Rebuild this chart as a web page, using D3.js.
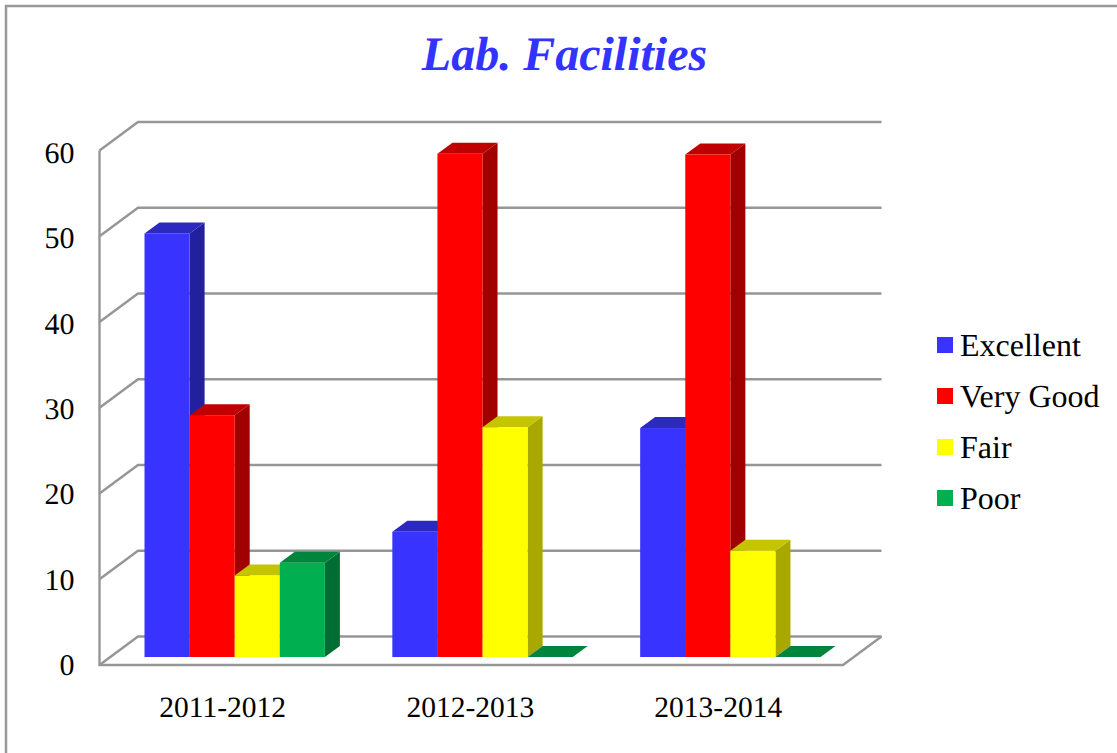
<!DOCTYPE html>
<html><head><meta charset="utf-8">
<script src="https://cdn.jsdelivr.net/npm/d3@7"></script>
<style>html,body{margin:0;padding:0;background:#fff}svg{display:block}text{font-family:"Liberation Serif",serif;fill:#000;text-rendering:geometricPrecision}</style>
</head><body><svg id="c" width="1117" height="753"></svg>
<script>
const categories = ["2011-2012","2012-2013","2013-2014"];
const seriesNames = ["Excellent","Very Good","Fair","Poor"];
const excellent = [49.4,14.6,26.7];
const veryGood = [28.2,58.7,58.6];
const fair = [9.5,26.8,12.4];
const poor = [11,0,0];
const seriesValues = [excellent,veryGood,fair,poor];
const faceColors = ["#3833FF","#FF0000","#FFFF00","#00B050"];
const topColors = ["#2C29BE","#C00000","#C4C400","#00863C"];
const sideColors = ["#2320A0","#A00000","#A8A800","#006E32"];
const yTicks = [0,10,20,30,40,50,60];

const svg = d3.select("#c"), gray = "#969696";
const left = 99.5, right = 843, base = 665, top60 = 150.5;
const wallDx = 38.5, wallDy = 28.5;
const barBase = 657, barDx = 15, barDy = 11;
const x = d3.scaleBand().domain(categories).range([left,right]);
const y = d3.scaleLinear().domain([0,60]).range([base,top60]);
const yLabel = d3.scaleLinear().domain([0,60]).range([675,163]);
const h = d3.scaleLinear().domain([0,60]).range([barBase,barBase-(base-top60)]);
const inner = d3.scaleBand().domain(seriesNames).range([45,45+180.4]);

// frame
svg.append("path").attr("d",d3.line()([[6,753],[6,6],[1117,6]])).attr("fill","none").attr("stroke","#999").attr("stroke-width",2.5);

// walls and grid
svg.append("g").selectAll("path").data(yTicks).join("path")
  .attr("fill","none").attr("stroke",gray).attr("stroke-width",2.4)
  .attr("d",d=>d3.line()([[left,y(d)],[left+wallDx,y(d)-wallDy],[right+wallDx,y(d)-wallDy]]));
svg.append("path").attr("fill","none").attr("stroke",gray).attr("stroke-width",2.4)
  .attr("d",d3.line()([[left,top60],[left,base],[right,base],[right+wallDx,base-wallDy]]));

// axis labels
svg.append("g").selectAll("text").data(yTicks).join("text")
  .attr("x",74.5).attr("y",d=>yLabel(d)).attr("text-anchor","end").attr("font-size",30).text(d=>d);
svg.append("g").selectAll("text").data(categories).join("text")
  .attr("x",d=>x(d)+x.bandwidth()/2-0.8).attr("y",717).attr("text-anchor","middle").attr("font-size",29.5).text(d=>d);

// bars
const bars = [];
categories.forEach((c,ci)=>seriesNames.forEach((s,si)=>bars.push({c,s,si,v:seriesValues[si][ci]})));
const g = svg.append("g");
bars.forEach(b=>{
  const x0 = x(b.c)+inner(b.s), x1 = x0+inner.bandwidth(), yt = h(b.v), yb = h(0);
  g.append("polygon").attr("fill",sideColors[b.si]).attr("points",[[x1,yt],[x1+barDx,yt-barDy],[x1+barDx,yb-barDy],[x1,yb]].join(" "));
  g.append("polygon").attr("fill",topColors[b.si]).attr("points",[[x0,yt],[x0+barDx,yt-barDy],[x1+barDx,yt-barDy],[x1,yt]].join(" "));
  g.append("rect").attr("fill",faceColors[b.si]).attr("x",x0).attr("y",yt).attr("width",x1-x0).attr("height",yb-yt);
});

// title
svg.append("text").attr("x",564.5).attr("y",70).attr("text-anchor","middle").attr("font-size",48)
  .attr("font-weight","bold").attr("font-style","italic").style("fill","#3333FF").text("Lab. Facilities");

// legend
const leg = d3.scaleBand().domain(seriesNames).range([320.5,524.5]);
const lg = svg.append("g").selectAll("g").data(seriesNames).join("g");
lg.append("rect").attr("x",937).attr("y",d=>leg(d)+16.5).attr("width",16).attr("height",16).attr("fill",(d,i)=>faceColors[i]);
lg.append("text").attr("x",960).attr("y",d=>leg(d)+35).attr("font-size",32).text(d=>d);
</script></body></html>
